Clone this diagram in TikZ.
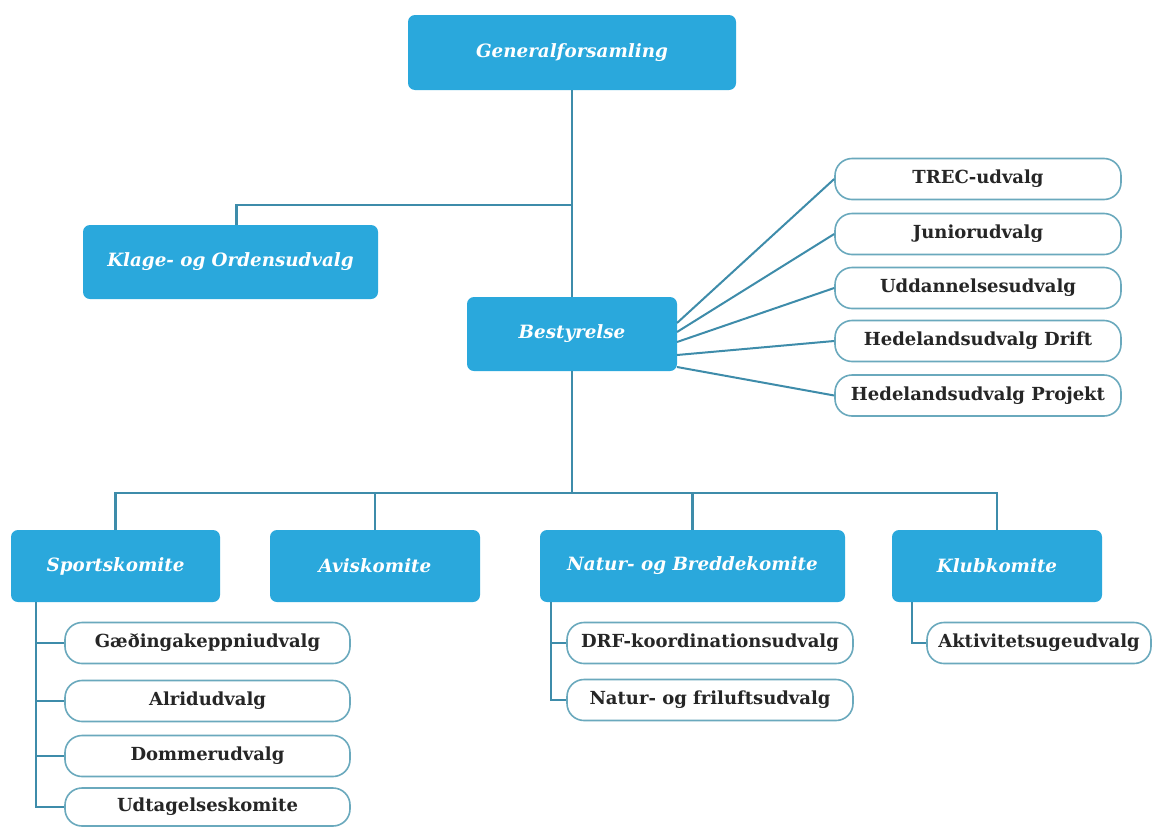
\documentclass[tikz,border=0pt]{standalone}
\usepackage{fontspec}
\setmainfont{DejaVu Serif}
\definecolor{boxblue}{HTML}{2AA8DC}
\definecolor{linec}{HTML}{3E8CAA}
\definecolor{subborder}{HTML}{6AA9BD}
\definecolor{txt}{HTML}{262626}
\begin{document}
\begin{tikzpicture}[x=1pt,y=-1pt,
  bluebox/.style={fill=boxblue, rounded corners=7pt, text=white,
    font=\fontsize{18.3}{21}\selectfont\bfseries\itshape, inner sep=0},
  subbox/.style={draw=subborder, line width=1.6pt, fill=white, rounded corners=17pt,
    text=txt, font=\fontsize{18}{21}\selectfont\bfseries, minimum height=41, inner sep=0},
  conn/.style={draw=linec, line width=2.4pt}]
\useasboundingbox[fill=white] (0,0) rectangle (1155,827);

% blue boxes
\node[bluebox, minimum width=328, minimum height=75] (gen) at (572,52.5) {Generalforsamling};
\node[bluebox, minimum width=295, minimum height=74] (klage) at (230.5,262) {Klage- og Ordensudvalg};
\node[bluebox, minimum width=210, minimum height=74] (best) at (572,334) {Bestyrelse};
\node[bluebox, minimum width=209, minimum height=72] (sport) at (115.5,566) {Sportskomite};
\node[bluebox, minimum width=210, minimum height=72] (avis) at (375,566) {Aviskomite};
\node[bluebox, minimum width=305, minimum height=72] (natur) at (692.5,566) {Natur- og Breddekomite};
\node[bluebox, minimum width=210, minimum height=72] (klub) at (997,566) {Klubkomite};

% right committees
\node[subbox, minimum width=286] (r1) at (978,179) {TREC-udvalg};
\node[subbox, minimum width=286] (r2) at (978,234) {Juniorudvalg};
\node[subbox, minimum width=286] (r3) at (978,288) {Uddannelsesudvalg};
\node[subbox, minimum width=286] (r4) at (978,341) {Hedelandsudvalg Drift};
\node[subbox, minimum width=286] (r5) at (978,395.5) {Hedelandsudvalg Projekt};

% sport subs
\node[subbox, minimum width=285] (s1) at (207.5,643) {Gæðingakeppniudvalg};
\node[subbox, minimum width=285] (s2) at (207.5,701) {Alridudvalg};
\node[subbox, minimum width=285] (s3) at (207.5,756) {Dommerudvalg};
\node[subbox, minimum width=285, minimum height=38] (s4) at (207.5,807) {Udtagelseskomite};

% natur subs
\node[subbox, minimum width=286] (n1) at (710,643) {DRF-koordinationsudvalg};
\node[subbox, minimum width=286] (n2) at (710,700) {Natur- og friluftsudvalg};

% klub sub
\node[subbox, minimum width=224] (a1) at (1039,643) {Aktivitetsugeudvalg};

% connectors
\draw[conn] (gen.south) -- (best.north);
\coordinate (kj) at (572,205);
\draw[conn] (kj) -| ([xshift=6]klage.north);

\coordinate (bus) at (572,493);
\draw[conn] (best.south) -- (bus);
\draw[conn] (sport.north) |- (bus) -| (klub.north);
\draw[conn] (avis.north) -- (avis.north |- bus);
\draw[conn] (natur.north) -- (natur.north |- bus);

\coordinate (b1) at (677,323);
\coordinate (b2) at (677,332);
\coordinate (b3) at (677,342);
\coordinate (b4) at (677,355);
\coordinate (b5) at (677,367);
\draw[conn, line width=2pt] (b1) -- (r1.west);
\draw[conn, line width=2pt] (b2) -- (r2.west);
\draw[conn, line width=2pt] (b3) -- (r3.west);
\draw[conn, line width=2pt] (b4) -- (r4.west);
\draw[conn, line width=2pt] (b5) -- (r5.west);

\coordinate (sst) at (36,602);
\draw[conn] (sst) |- (s4.west);
\foreach \s in {s1,s2,s3} \draw[conn] (\s.west) -- (\s.west -| sst);

\coordinate (nst) at (551,602);
\draw[conn] (nst) |- (n2.west);
\draw[conn] (n1.west) -- (n1.west -| nst);

\coordinate (kst) at (912,602);
\draw[conn] (kst) |- (a1.west);
\end{tikzpicture}
\end{document}
